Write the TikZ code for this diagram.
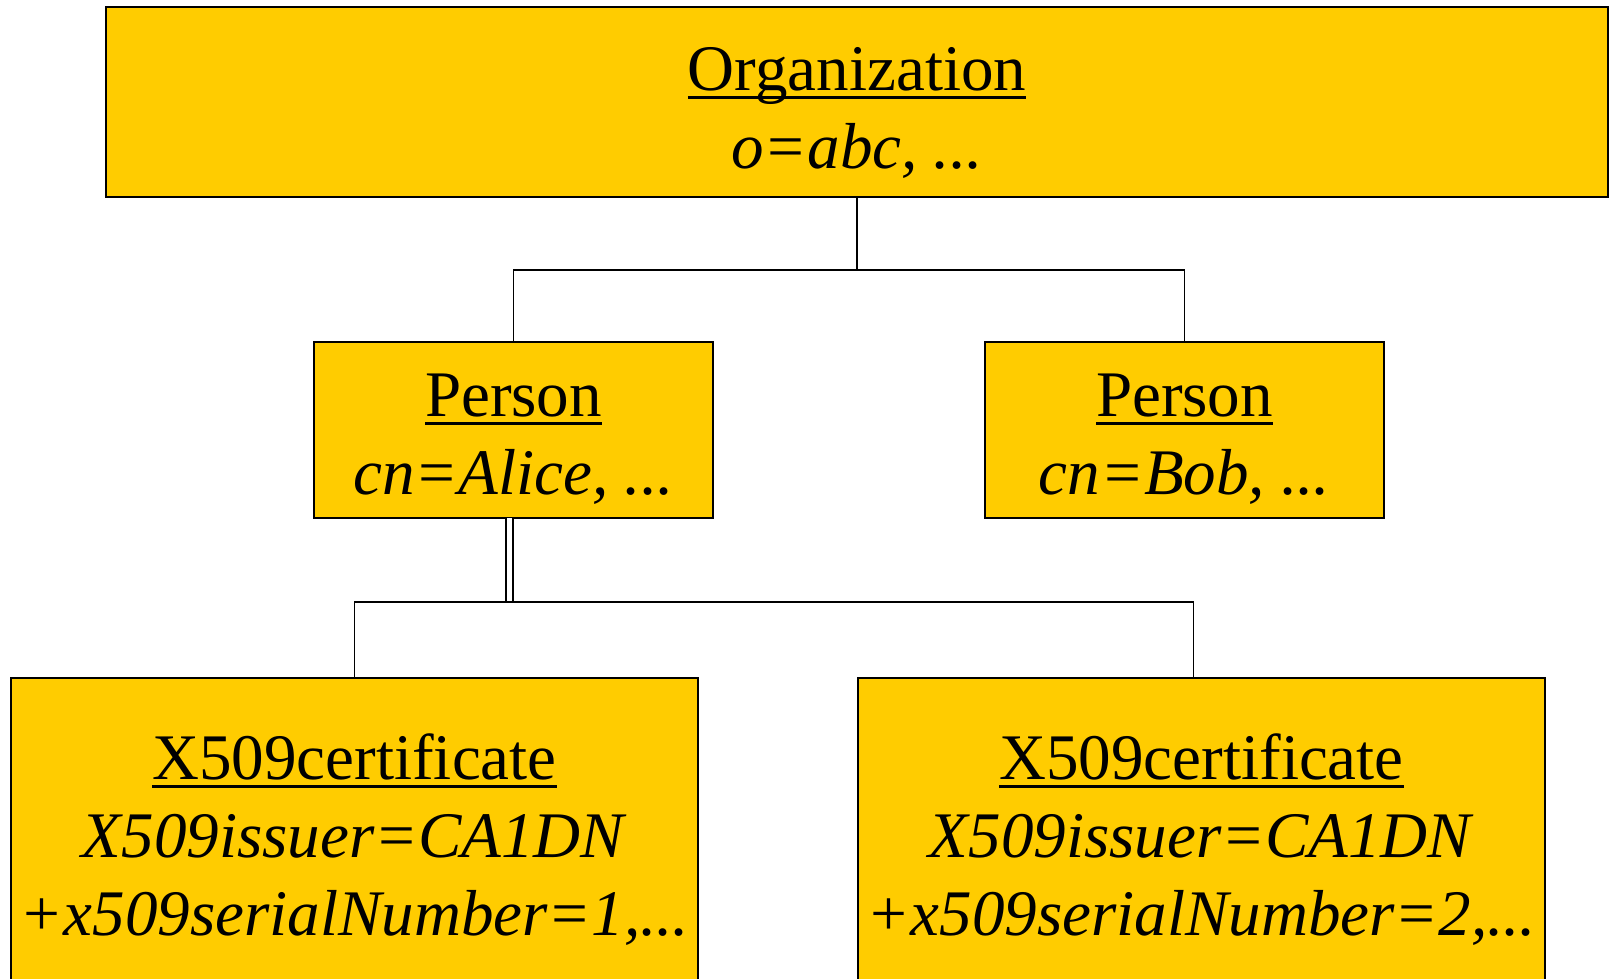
\documentclass[tikz,border=0pt]{standalone}
\usepackage{fontspec}
\setmainfont{Liberation Serif}
\usetikzlibrary{positioning}

\definecolor{boxyellow}{HTML}{FFCC00}
% title line of an entry: strut of height #1, underlined text #2
\newcommand\entryhead[2]{\rule{0pt}{#1}\setbox0\hbox{#2}\rlap{\rule[-0.14em]{\wd0}{0.045em}}\box0}

\begin{document}
\begin{tikzpicture}[every node/.style={outer sep=0pt},
 entry/.style={draw,line width=0.6pt,fill=boxyellow,align=center,inner sep=1pt,
 font=\fontsize{18.5pt}{22.3pt}\selectfont},
 link/.style={line width=0.5pt}]
\useasboundingbox (0,0) rectangle (16.13,-9.79);
\clip (0,0) rectangle (16.13,-9.79);

  \node[entry,minimum width=15.02cm,minimum height=1.90cm] (org) at (8.57,-1.02)
   {\entryhead{0.65cm}{Organization}\\ \textit{o=abc, ...}};

  \node[entry,minimum width=3.99cm,minimum height=1.76cm,below=1.45cm of org, xshift=-3.435cm] (alice)
   {\entryhead{0.61cm}{Person}\\ \textit{cn=Alice, ...}};

  \node[entry,minimum width=3.99cm,minimum height=1.76cm,right=2.72cm of alice] (bob)
   {\entryhead{0.61cm}{Person}\\ \textit{cn=Bob, ...}};

  \node[entry,minimum width=6.87cm,minimum height=3.14cm,below=1.60cm of alice, xshift=-1.59cm] (cert1)
   {\entryhead{0.55cm}{X509certificate}\\ \textit{X509issuer=CA1DN}\\ \textit{+x509serialNumber=1,...}};

  \node[entry,minimum width=6.87cm,minimum height=3.14cm,right=1.60cm of cert1] (cert2)
   {\entryhead{0.55cm}{X509certificate}\\ \textit{X509issuer=CA1DN}\\ \textit{+x509serialNumber=2,...}};

% organization to persons
\draw[link] (org.south) -- ++(0,-0.73) coordinate (bus1);
\draw[link] (alice.north) |- (bus1) -| (bob.north);

% alice to her certificates
\draw[link,double,double distance=0.05cm] ([xshift=-0.04cm]alice.south) -- ++(0,-0.84) coordinate (bus2);
\draw[link] (cert1.north) |- (bus2) -| ([xshift=-0.08cm]cert2.north);
\end{tikzpicture}
\end{document}
